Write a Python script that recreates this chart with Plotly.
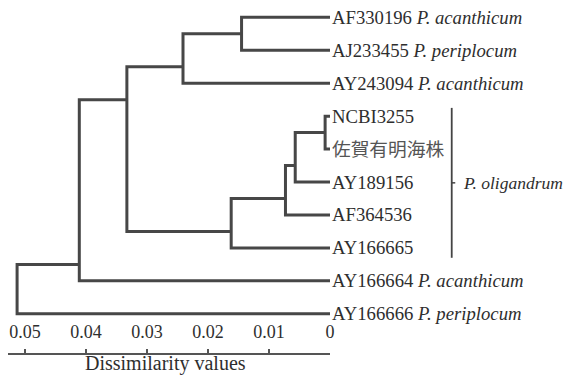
import plotly.graph_objects as go

# ---- data ----
leaf_ids = ["AF330196", "AJ233455", "AY243094", "NCBI3255", "佐賀有明海株",
            "AY189156", "AF364536", "AY166665", "AY166664", "AY166666"]
leaf_species = ["P. acanthicum", "P. periplocum", "P. acanthicum", "", "",
                "", "", "", "P. acanthicum", "P. periplocum"]
# merges: (child1, child2, dissimilarity) ; leaves are 0..9, new nodes 10..
merge_child1 = [0, 10, 3, 12, 13, 14, 11, 16, 17]
merge_child2 = [1, 2, 4, 5, 6, 7, 15, 8, 9]
merge_height = [0.0145, 0.0241, 0.0008, 0.0057, 0.0073, 0.0162, 0.0333, 0.0411, 0.0513]
tick_values = [0.05, 0.04, 0.03, 0.02, 0.01, 0.0]
tick_labels = ["0.05", "0.04", "0.03", "0.02", "0.01", "0"]
group_name = "P. oligandrum"
group_leaves = [3, 7]  # first and last leaf of the bracketed group
axis_title = "Dissimilarity values"

# ---- layout of tree ----
n_leaves = len(leaf_ids)
height = {i: 0.0 for i in range(n_leaves)}
ypos = {i: float(i) for i in range(n_leaves)}
maxrow = {i: i for i in range(n_leaves)}
xs, ys = [], []
for k, (c1, c2, h) in enumerate(zip(merge_child1, merge_child2, merge_height)):
    node = n_leaves + k
    height[node] = h
    ypos[node] = maxrow[c1] + 0.5
    maxrow[node] = max(maxrow[c1], maxrow[c2])
    xs += [height[c1], h, h, height[c2], None]
    ys += [ypos[c1], ypos[c1], ypos[c2], ypos[c2], None]

LINE = "#474747"
TEXT = "#2e2e2e"
FONT = "'Liberation Serif', 'Noto Sans CJK JP', serif"

fig = go.Figure()
fig.add_trace(go.Scatter(x=xs, y=ys, mode="lines",
                         line=dict(color=LINE, width=3),
                         hoverinfo="skip", showlegend=False))

for i, (lid, sp) in enumerate(zip(leaf_ids, leaf_species)):
    txt = lid + (" <i>" + sp + "</i>" if sp else "")
    fig.add_annotation(x=0, y=i, xref="x", yref="y", text=txt,
                       showarrow=False, xanchor="left", yanchor="middle",
                       xshift=0, font=dict(family=FONT, size=18.7,
                                           color="#555" if not lid.isascii() else TEXT))

# bracket
g0, g1 = group_leaves
bx = 1.378
fig.add_shape(type="line", xref="paper", yref="y", x0=bx, x1=bx,
              y0=g0 - 0.25, y1=g1 + 0.3, line=dict(color="#444", width=1.8))
mid = (g0 - 0.25 + g1 + 0.3) / 2
fig.add_shape(type="line", xref="paper", yref="y", x0=bx, x1=bx + 0.011,
              y0=mid, y1=mid, line=dict(color="#444", width=1.5))
fig.add_annotation(x=bx + 0.03, y=mid, xref="paper", yref="y",
                   text="<i>" + group_name + "</i>", showarrow=False,
                   xanchor="left", yanchor="middle",
                   font=dict(family=FONT, size=17.5, color=TEXT))

# axis title
fig.add_annotation(x=0.49, y=0, xref="paper", yref="paper", text=axis_title,
                   showarrow=False, xanchor="center", yanchor="top", yshift=3,
                   font=dict(family=FONT, size=20, color=TEXT))

fig.update_layout(
    template="none",
    width=568, height=369,
    margin=dict(l=0, r=246, t=0, b=24, autoexpand=False),
    paper_bgcolor="white", plot_bgcolor="white",
    showlegend=False,
    font=dict(family=FONT, size=18, color=TEXT),
    xaxis=dict(range=[0.05279, 0], tickvals=tick_values, ticktext=tick_labels,
               ticks="inside", ticklen=4, tickwidth=1.5, tickcolor="#555",
               showline=True, linecolor="#555", linewidth=2,
               showgrid=False, zeroline=False, automargin=False,
               ticklabelposition="inside", ticklabeloverflow="allow",
               ticklabelstandoff=8,
               tickfont=dict(family=FONT, size=18, color=TEXT), fixedrange=True),
    yaxis=dict(range=[10.19, -0.282], visible=False, fixedrange=True,
               automargin=False),
)

fig.write_html("out.html")
